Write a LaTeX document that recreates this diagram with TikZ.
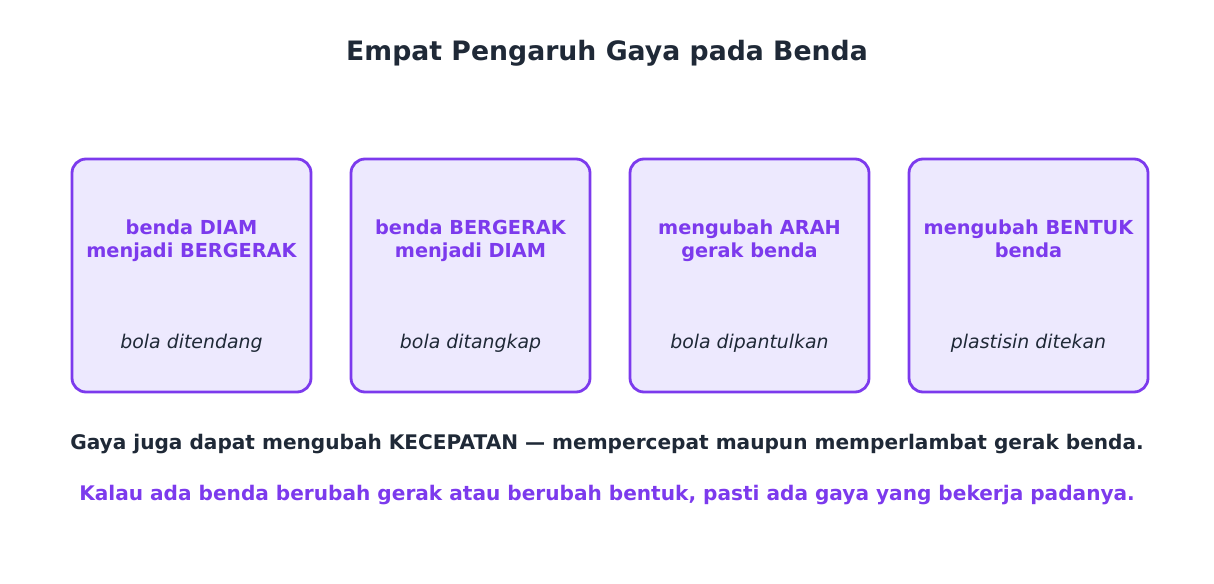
\documentclass[tikz,border=0pt]{standalone}
\usepackage{fontspec}
\setmainfont{DejaVu Sans}
\definecolor{ungu}{HTML}{7C3AED}
\definecolor{lavender}{HTML}{EDE9FE}
\definecolor{gelap}{HTML}{1F2937}
\begin{document}
\begin{tikzpicture}[x=1pt,y=-1pt,
  kotak/.style={draw=ungu,fill=lavender,line width=2.8pt,rounded corners=14pt,minimum width=239pt,minimum height=233pt,inner sep=0pt},
  judul/.style={text=ungu,font=\fontsize{19.3}{23}\selectfont\bfseries,align=center},
  contoh/.style={text=gelap,font=\fontsize{18.9}{22}\selectfont\itshape}]
\useasboundingbox (0,0) rectangle (1214,583);
% Judul
\node[text=gelap,font=\fontsize{26.7}{30}\selectfont\bfseries] (title) at (607,53) {Empat Pengaruh Gaya pada Benda};

% Kotak
\node[kotak] (k1) at (191.5,275.5) {};
\node[kotak] (k2) at (470.5,275.5) {};
\node[kotak] (k3) at (749.5,275.5) {};
\node[kotak] (k4) at (1028.5,275.5) {};

% Teks dalam kotak
\node[judul] (j1) at (191.5,241.5) {benda DIAM\strut\\menjadi BERGERAK\strut};
\node[judul] (j2) at (470.5,241.5) {benda BERGERAK\strut\\menjadi DIAM\strut};
\node[judul] (j3) at (749.5,241.5) {mengubah ARAH\strut\\gerak benda\strut};
\node[judul] (j4) at (1028.5,241.5) {mengubah BENTUK\strut\\benda\strut};
\node[contoh] (c1) at (191.5,343) {bola ditendang};
\node[contoh] (c2) at (470.5,343) {bola ditangkap};
\node[contoh] (c3) at (749.5,343) {bola dipantulkan};
\node[contoh] (c4) at (1028.5,343) {plastisin ditekan};

% Catatan
\node[text=gelap,font=\fontsize{20.1}{24}\selectfont\bfseries] (n1) at (607,444) {Gaya juga dapat mengubah KECEPATAN — mempercepat maupun memperlambat gerak benda.};
\node[text=ungu,font=\fontsize{20.1}{24}\selectfont\bfseries] (n2) at (607,495) {Kalau ada benda berubah gerak atau berubah bentuk, pasti ada gaya yang bekerja padanya.};
\end{tikzpicture}
\end{document}
